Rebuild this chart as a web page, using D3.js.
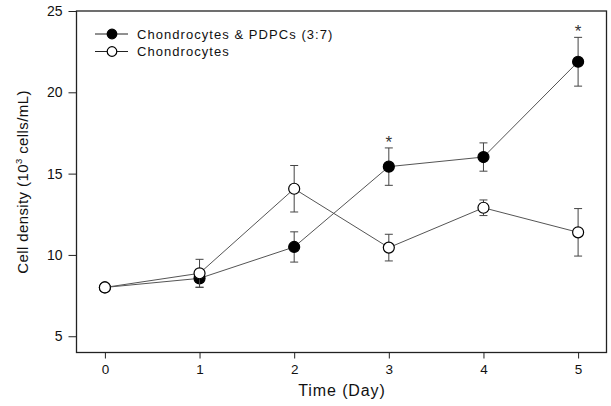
<!DOCTYPE html>
<html>
<head>
<meta charset="utf-8">
<script src="https://cdn.jsdelivr.net/npm/d3@7/dist/d3.min.js"></script>
<style>
  body { margin: 0; background: #fff; }
  text { font-family: Arial, "Liberation Sans", sans-serif; fill: #111; }
</style>
</head>
<body>
<svg id="chart" width="611" height="406"></svg>
<script>
const days = [0, 1, 2, 3, 4, 5];
const xTicks = [0, 1, 2, 3, 4, 5];
const yTicks = [5, 10, 15, 20, 25];
const seriesNames = ["Chondrocytes & PDPCs (3:7)", "Chondrocytes"];
const coMean = [8.0, 8.56, 10.49, 15.43, 16.02, 21.88];
const coErr  = [0.0, 0.55, 0.93, 1.15, 0.87, 1.5];
const chMean = [8.0, 8.87, 14.07, 10.45, 12.9, 11.39];
const chErr  = [0.0, 0.86, 1.43, 0.82, 0.48, 1.46];
const significant = [false, false, false, true, false, true];

const svg = d3.select("#chart");
const L = 76.5, R = 606.5, T = 11, B = 352.5;
const x = d3.scaleLinear().domain([-0.3, 5.3]).range([L, R]);
const y = d3.scaleLinear().domain([4, 25]).range([B, T]);

// frame
svg.append("rect").attr("x", L).attr("y", T).attr("width", R - L).attr("height", B - T)
  .attr("fill", "none").attr("stroke", "#222").attr("stroke-width", 1.3);

// axes
const xAxis = d3.axisBottom(x).tickValues(xTicks).tickSize(6).tickPadding(6).tickFormat(d3.format("d"));
const gx = svg.append("g").attr("transform", `translate(0,${B})`).call(xAxis);
gx.select(".domain").remove();
gx.selectAll("line").attr("stroke", "#222");
gx.selectAll("text").attr("font-size", 13.5);

const yAxis = d3.axisLeft(y).tickValues(yTicks).tickSize(8).tickPadding(6).tickFormat(d3.format("d"));
const gy = svg.append("g").attr("transform", `translate(${L},0)`).call(yAxis);
gy.select(".domain").remove();
gy.selectAll("line").attr("stroke", "#222");
gy.selectAll("text").attr("font-size", 14);

// axis labels
svg.append("text").attr("x", 342).attr("y", 396).attr("text-anchor", "middle")
  .style("font-size", "16px").style("letter-spacing", "0.9px").text("Time (Day)");
const yl = svg.append("text").attr("transform", `translate(28,${182}) rotate(-90)`)
  .attr("text-anchor", "middle").style("font-size", "15px").style("letter-spacing", "0.4px");
yl.append("tspan").text("Cell density (10");
yl.append("tspan").attr("dy", -6).style("font-size", "9.5px").text("3");
yl.append("tspan").attr("dy", 6).text(" cells/mL)");

const line = d3.line().x((d, i) => x(days[i])).y(d => y(d));
const lineColor = "#555";

function drawSeries(means, errs, filled) {
  svg.append("path").datum(means).attr("d", line).attr("fill", "none")
    .attr("stroke", lineColor).attr("stroke-width", 1);
  const g = svg.append("g");
  means.forEach((m, i) => {
    if (errs[i] > 0) {
      const cx = x(days[i]);
      g.append("line").attr("x1", cx).attr("x2", cx).attr("y1", y(m - errs[i])).attr("y2", y(m + errs[i]))
        .attr("stroke", "#444").attr("stroke-width", 1);
      [m - errs[i], m + errs[i]].forEach(v => {
        g.append("line").attr("x1", cx - 4).attr("x2", cx + 4).attr("y1", y(v)).attr("y2", y(v))
          .attr("stroke", "#444").attr("stroke-width", 1);
      });
    }
  });
  means.forEach((m, i) => {
    g.append("circle").attr("cx", x(days[i])).attr("cy", y(m)).attr("r", 5.5)
      .attr("fill", filled ? "#000" : "#fff").attr("stroke", "#000").attr("stroke-width", 1.2);
  });
}
drawSeries(coMean, coErr, true);
drawSeries(chMean, chErr, false);

// significance asterisks
significant.forEach((s, i) => {
  if (s) {
    svg.append("text").attr("x", x(days[i])).attr("y", y(coMean[i] + coErr[i]) + 0)
      .attr("text-anchor", "middle").style("font-size", "17px").style("fill", "#333").text("*");
  }
});

// legend
const legend = svg.append("g");
seriesNames.forEach((name, i) => {
  const ly = 34 + i * 17.5;
  legend.append("line").attr("x1", 95).attr("x2", 128).attr("y1", ly).attr("y2", ly)
    .attr("stroke", "#222").attr("stroke-width", 1);
  legend.append("circle").attr("cx", 112).attr("cy", ly).attr("r", 4.8)
    .attr("fill", i === 0 ? "#000" : "#fff").attr("stroke", "#000").attr("stroke-width", 1.2);
  legend.append("text").attr("x", 137).attr("y", ly + 4.5).style("font-size", "13px")
    .style("letter-spacing", "1.05px").text(name);
});
</script>
</body>
</html>
